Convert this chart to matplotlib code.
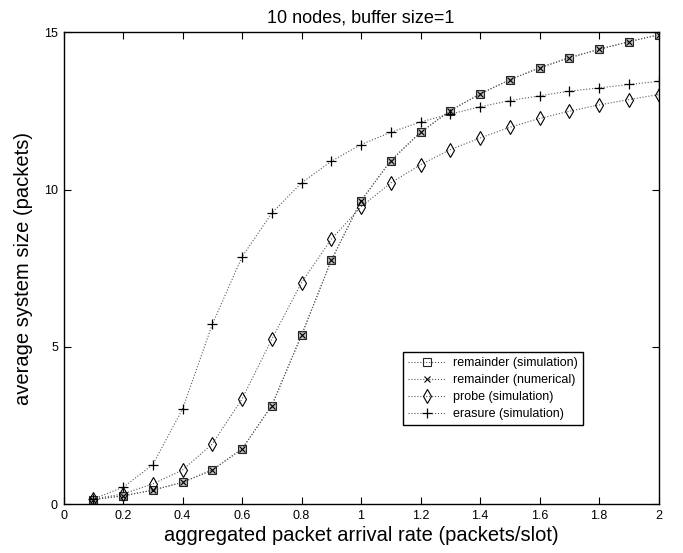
import numpy as np
import matplotlib
matplotlib.use("Agg")
import matplotlib.pyplot as plt

plt.rcParams['font.family'] = ['Liberation Sans', 'DejaVu Sans']

# arrival rates (packets/slot)
rate = [0.1, 0.2, 0.3, 0.4, 0.5, 0.6, 0.7, 0.8, 0.9, 1.0,
        1.1, 1.2, 1.3, 1.4, 1.5, 1.6, 1.7, 1.8, 1.9, 2.0]

# average system size
remainder_sim = [0.14, 0.26, 0.44, 0.69, 1.08, 1.75, 3.13, 5.37, 7.75, 9.64,
                 10.92, 11.82, 12.51, 13.04, 13.49, 13.87, 14.19, 14.46, 14.70, 14.92]
remainder_num = [0.14, 0.26, 0.44, 0.69, 1.08, 1.75, 3.13, 5.37, 7.75, 9.64,
                 10.92, 11.82, 12.51, 13.04, 13.49, 13.87, 14.19, 14.46, 14.70, 14.92]
probe_sim = [0.16, 0.32, 0.64, 1.08, 1.91, 3.34, 5.24, 7.04, 8.42, 9.45,
             10.21, 10.79, 11.27, 11.64, 11.98, 12.26, 12.49, 12.69, 12.86, 13.02]
erasure_sim = [0.16, 0.53, 1.25, 3.02, 5.71, 7.86, 9.25, 10.21, 10.90, 11.43,
               11.82, 12.15, 12.40, 12.63, 12.83, 12.98, 13.13, 13.23, 13.34, 13.44]

xticks = [0, 0.2, 0.4, 0.6, 0.8, 1, 1.2, 1.4, 1.6, 1.8, 2]
xticklabels = ['0', '0.2', '0.4', '0.6', '0.8', '1', '1.2', '1.4', '1.6', '1.8', '2']
yticks = [0, 5, 10, 15]

fig = plt.figure(figsize=(6.83, 5.53), dpi=100)
ax = fig.add_axes([0.093, 0.0886, 0.8712, 0.853])

lw = 0.8
col = '0.35'
ax.plot(rate, remainder_sim, linestyle=':', color=col, linewidth=lw,
        marker='s', markersize=5.2, markerfacecolor='0.75', markeredgecolor='0.15',
        markeredgewidth=0.8, label='remainder (simulation)')
ax.plot(rate, remainder_num, linestyle=':', color=col, linewidth=lw,
        marker='x', markersize=4.2, markeredgecolor='k', markeredgewidth=0.8,
        label='remainder (numerical)')
ax.plot(rate, probe_sim, linestyle=':', color=col, linewidth=lw,
        marker='d', markersize=7, markerfacecolor='none', markeredgecolor='k',
        markeredgewidth=0.8, label='probe (simulation)')
ax.plot(rate, erasure_sim, linestyle=':', color=col, linewidth=lw,
        marker='+', markersize=6.5, markeredgecolor='k', markeredgewidth=0.9,
        label='erasure (simulation)')

ax.set_xlim(0, 2)
ax.set_ylim(0, 15)
ax.set_xticks(xticks)
ax.set_xticklabels(xticklabels)
ax.set_yticks(yticks)
ax.tick_params(direction='in', top=True, right=True, length=5, width=0.8,
               labelsize=9, pad=4)
for s in ax.spines.values():
    s.set_linewidth(1.0)

ax.set_title('10 nodes, buffer size=1', fontsize=13, pad=7)
ax.set_xlabel('aggregated packet arrival rate (packets/slot)', fontsize=14.5, labelpad=3)
ax.set_ylabel('average system size (packets)', fontsize=14.5, labelpad=8)

leg = ax.legend(loc='lower left', bbox_to_anchor=(0.571, 0.167), fontsize=9,
                frameon=True, fancybox=False, edgecolor='k', framealpha=1,
                handlelength=3, labelspacing=0.4, borderpad=0.4,
                handletextpad=0.6, borderaxespad=0)
leg.get_frame().set_linewidth(1.0)
# open square in the legend, as in the original
leg.legend_handles[0].set_markerfacecolor('none')

fig.savefig('out.png', dpi=100)
